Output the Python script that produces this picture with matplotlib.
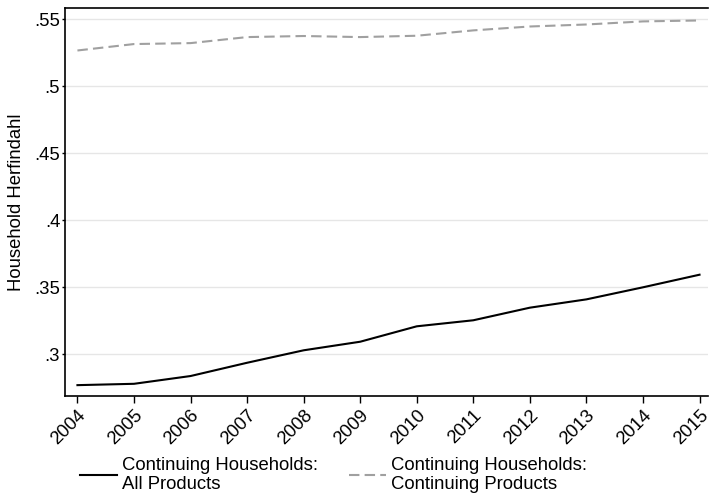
#! -*- coding: utf-8 -*-

#---------------------------------
# モジュールのインポート
#---------------------------------
import matplotlib
matplotlib.use('Agg')
import matplotlib.pyplot as plt
import matplotlib.transforms as mtransforms

#---------------------------------
# データ
#---------------------------------
years = [2004, 2005, 2006, 2007, 2008, 2009, 2010, 2011, 2012, 2013, 2014, 2015]
all_products = [0.2770, 0.2780, 0.2838, 0.2937, 0.3030, 0.3094,
				0.3209, 0.3254, 0.3348, 0.3410, 0.3500, 0.3594]
cont_products = [0.5267, 0.5315, 0.5322, 0.5367, 0.5375, 0.5367,
				 0.5377, 0.5417, 0.5446, 0.5461, 0.5484, 0.5491]
ytick_vals = [0.30, 0.35, 0.40, 0.45, 0.50, 0.55]
ytick_labels = ['.3', '.35', '.4', '.45', '.5', '.55']
label_all = 'Continuing Households:\nAll Products'
label_cont = 'Continuing Households:\nContinuing Products'

#---------------------------------
# メイン処理
#---------------------------------
def main():
	plt.rcParams['font.family'] = ['Liberation Sans', 'DejaVu Sans']
	fs = 13.3

	fig = plt.figure(figsize=(7.09, 4.93), dpi=100)
	ax = fig.add_axes([65 / 709, 97 / 493, 643 / 709, (396 - 8) / 493])

	# --- 線を描画 ---
	l1, = ax.plot(years, all_products, color='black', lw=1.5, label=label_all)
	l2, = ax.plot(years, cont_products, color='#a0a0a0', lw=1.5,
				  dashes=(5, 2.5), label=label_cont)

	# --- 軸の設定 ---
	ax.set_xlim(2003.78, 2015.15)
	ax.set_ylim(0.2689, 0.5584)
	ax.set_xticks(years)
	ax.set_xticklabels([str(y) for y in years], rotation=45, ha='right',
					   rotation_mode='anchor', fontsize=fs)
	shift = mtransforms.ScaledTranslation(-2 / 100, 0, fig.dpi_scale_trans)
	for lab in ax.get_xticklabels():
		lab.set_transform(lab.get_transform() + shift)
	ax.set_yticks(ytick_vals)
	ax.set_yticklabels(ytick_labels, fontsize=fs)
	ax.tick_params(axis='x', direction='out', length=5, width=1, color='black', pad=3)
	ax.tick_params(axis='y', direction='out', length=2, width=1, color='black', pad=1.5)
	ax.set_ylabel('Household Herfindahl', fontsize=fs)
	ax.yaxis.set_label_coords(-0.062, 0.5)
	ax.grid(axis='y', color='#e6e6e6', lw=1)
	ax.set_axisbelow(True)
	ax.spines['right'].set_visible(False)
	for s in ['left', 'bottom', 'top']:
		ax.spines[s].set_linewidth(1.2)

	# --- 凡例 ---
	fig.legend(handles=[l1, l2], loc='center left',
			   bbox_to_anchor=(80 / 709, 1 - 475 / 493), ncol=2,
			   frameon=False, fontsize=fs, handlelength=2.0, handletextpad=0.27,
			   columnspacing=1.7, borderpad=0, borderaxespad=0,
			   labelspacing=0.1)

	fig.savefig('out.png', dpi=100)
	plt.close(fig)

if __name__ == '__main__':
	main()
